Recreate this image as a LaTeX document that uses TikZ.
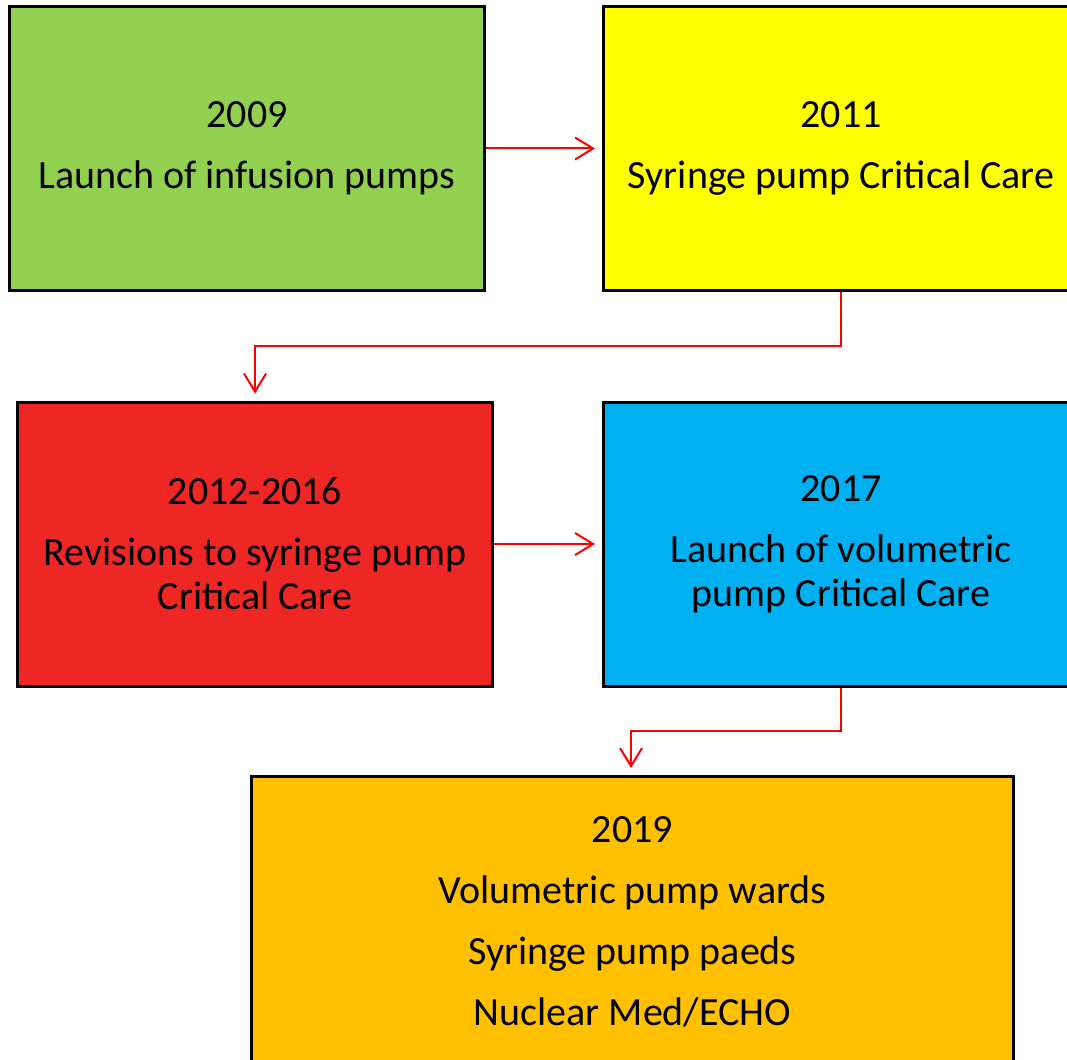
\documentclass[tikz,border=0pt]{standalone}
\usepackage{fontspec}
\setmainfont{Carlito}
\usepackage{tikz}
\usetikzlibrary{arrows.meta,calc}

\definecolor{boxgreen}{HTML}{92D050}
\definecolor{boxyellow}{HTML}{FFFF00}
\definecolor{boxred}{HTML}{EE2624}
\definecolor{boxblue}{HTML}{00B0F0}
\definecolor{boxorange}{HTML}{FFC000}

\begin{document}
\begin{tikzpicture}[x=1pt,y=-1pt,>={Straight Barb[length=18pt,width=22pt]},
		box/.style={draw,line width=3pt,minimum width=475pt,minimum height=284pt,align=center,font=\fontsize{40}{44}\selectfont},
		link/.style={->,red,line width=2pt,shorten >=7pt}]
		\clip (0,0) rectangle (1067,1059);
		\node[box,fill=boxgreen]  (n2009) at (247,148.5) {2009\\[17pt]Launch of infusion pumps};
		\node[box,fill=boxyellow] (n2011) at (841,148.5) {2011\\[17pt]Syringe pump Critical Care};
		\node[box,fill=boxred]    (n2012) at (255,544)   {2012-2016\\[17pt]Revisions to syringe pump\\Critical Care};
		\node[box,fill=boxblue]   (n2017) at (841,544)   {2017\\[17pt]Launch of volumetric\\pump Critical Care};
		\node[box,fill=boxorange,minimum width=762pt,minimum height=290pt] (n2019) at (632.5,921.5) {2019\\[17pt]Volumetric pump wards\\[17pt]Syringe pump paeds\\[17pt]Nuclear Med/ECHO};

		\coordinate (m1) at ($(n2011.south)!.5!(n2012.north)$);
		\coordinate (m2) at ($(n2017.south)!.5!(n2019.north)$);

		\draw[link] (n2009) -- (n2011);
		\draw[link] (n2011.south) -- (n2011.south |- m1) -| (n2012.north);
		\draw[link] (n2012) -- (n2017);
		\draw[link] (n2017.south) -- (n2017.south |- m2) -| ([xshift=-1.5pt]n2019.north);
	\end{tikzpicture}
\end{document}
